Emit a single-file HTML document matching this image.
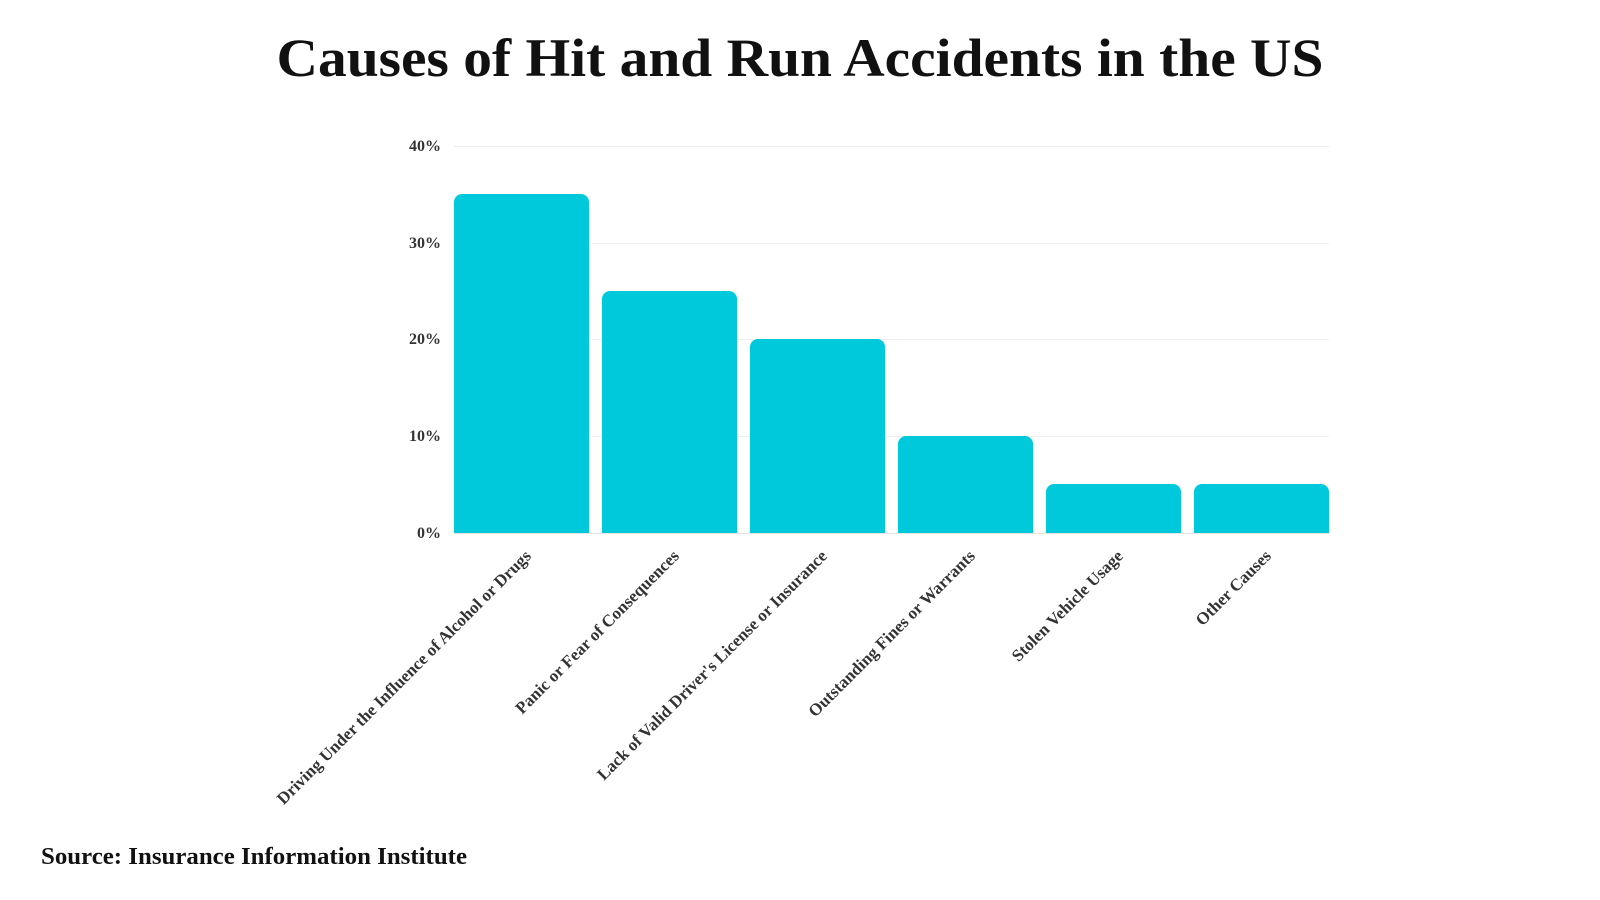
<!DOCTYPE html>
<html><head><meta charset="utf-8"><style>body{margin:0;background:#fff}svg{display:block}</style></head><body>
<svg width="1600" height="900" xmlns="http://www.w3.org/2000/svg" font-family="Liberation Serif, serif">
<text x="800" y="76" text-anchor="middle" font-size="54" font-weight="bold" fill="#111" textLength="1047" lengthAdjust="spacingAndGlyphs">Causes of Hit and Run Accidents in the US</text>
<g stroke="#eeeeee" stroke-width="1">
<line x1="454" x2="1329" y1="146.5" y2="146.5"/>
<line x1="454" x2="1329" y1="243.5" y2="243.5"/>
<line x1="454" x2="1329" y1="339.5" y2="339.5"/>
<line x1="454" x2="1329" y1="436.5" y2="436.5"/>
</g>
<g font-size="16" font-weight="bold" fill="#333" text-anchor="end">
<text x="441" y="151">40%</text>
<text x="441" y="248">30%</text>
<text x="441" y="344">20%</text>
<text x="441" y="441">10%</text>
<text x="441" y="538">0%</text>
</g>
<g fill="#00c9db">
<path d="M454 533V202a8 8 0 0 1 8-8H581a8 8 0 0 1 8 8V533Z"/>
<path d="M602 533V299a8 8 0 0 1 8-8H729a8 8 0 0 1 8 8V533Z"/>
<path d="M750 533V347a8 8 0 0 1 8-8H877a8 8 0 0 1 8 8V533Z"/>
<path d="M898 533V444a8 8 0 0 1 8-8H1025a8 8 0 0 1 8 8V533Z"/>
<path d="M1046 533V492a8 8 0 0 1 8-8H1173a8 8 0 0 1 8 8V533Z"/>
<path d="M1194 533V492a8 8 0 0 1 8-8H1321a8 8 0 0 1 8 8V533Z"/>
</g>
<line x1="454" x2="1329" y1="533.5" y2="533.5" stroke="#e4e4e4"/>
<g font-size="17" font-weight="bold" fill="#333" text-anchor="end">
<text transform="translate(532,557) rotate(-45)">Driving Under the Influence of Alcohol or Drugs</text>
<text transform="translate(680,557) rotate(-45)">Panic or Fear of Consequences</text>
<text transform="translate(828,557) rotate(-45)">Lack of Valid Driver's License or Insurance</text>
<text transform="translate(976,557) rotate(-45)">Outstanding Fines or Warrants</text>
<text transform="translate(1124,557) rotate(-45)">Stolen Vehicle Usage</text>
<text transform="translate(1272,557) rotate(-45)">Other Causes</text>
</g>
<text x="41" y="864" font-size="24" font-weight="bold" fill="#111" textLength="426" lengthAdjust="spacingAndGlyphs">Source: Insurance Information Institute</text>
</svg>
</body></html>
